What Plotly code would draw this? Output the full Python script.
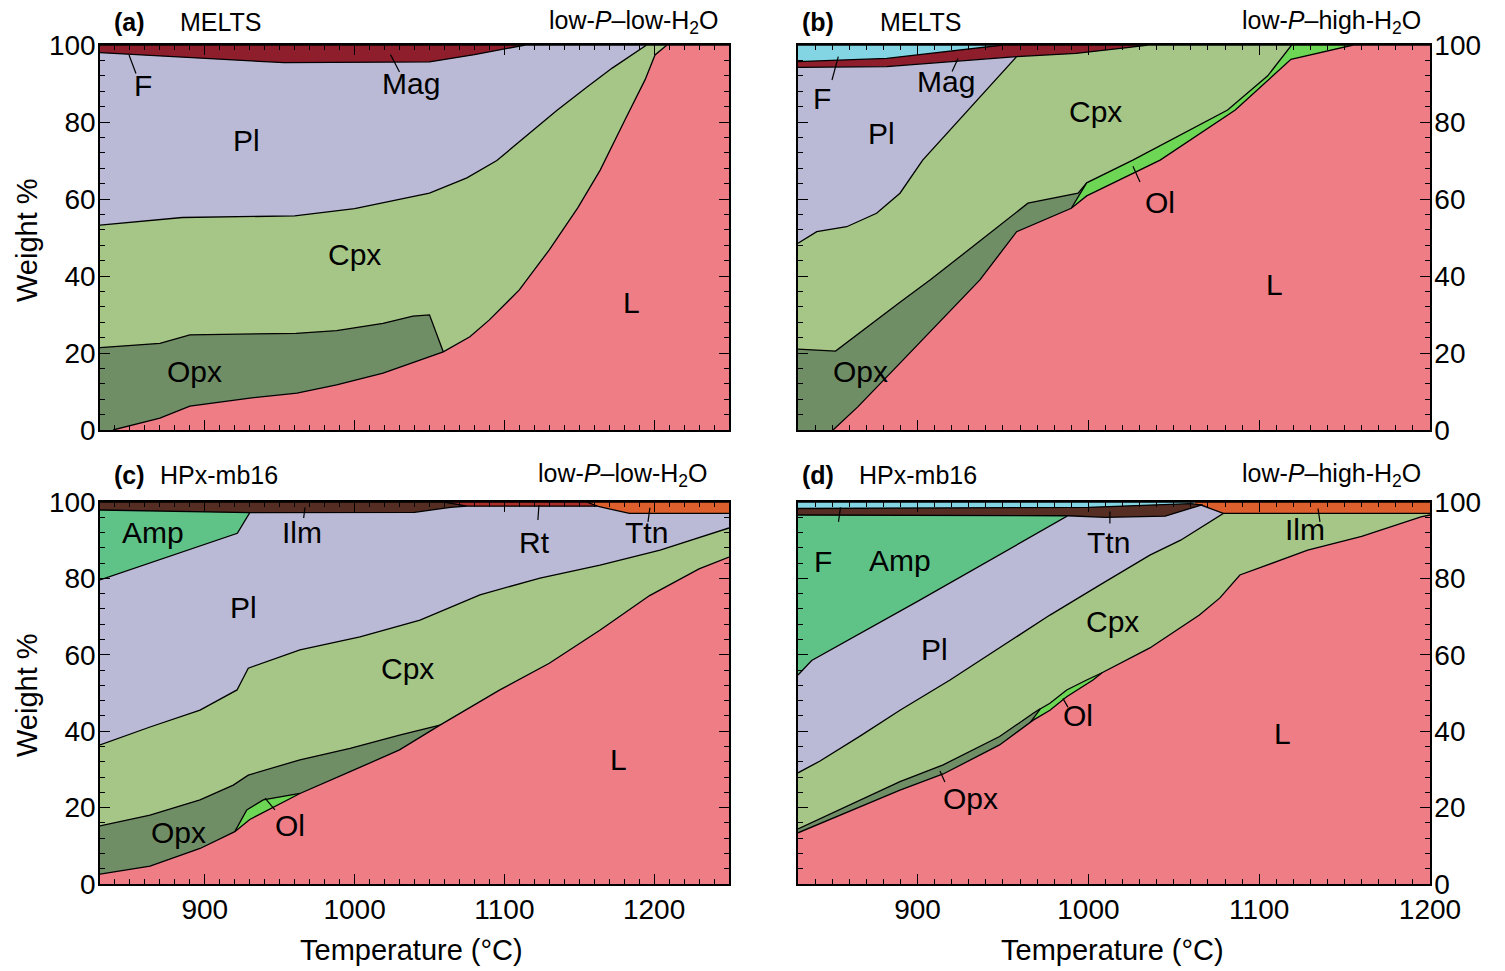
import plotly.graph_objects as go

FONT = "Liberation Sans, Arial, Helvetica, sans-serif"

# ---------------- colours of phase fields ----------------
C_L = "#EE7D86"
C_CPX = "#A5C687"
C_OPX = "#708E66"
C_OL = "#6ED655"
C_PL = "#BABAD6"
C_AMP = "#5FC387"
C_MAG = "#8F1E2D"
C_F = "#84D5E3"
C_BROWN = "#552D23"
C_RT = "#AA2D28"
C_ORANGE = "#DD5F2D"

# ---------------- data: upper boundary of each phase field (T in °C, cumulative wt%) ----------------
# (a) MELTS, low-P-low-H2O
a_Mag = [(830, 100), (1114, 100)]
a_Pl = [(830, 98), (880, 97), (953, 95.4), (1050, 95.6), (1080, 97.5), (1114, 100), (1195, 100)]
a_Cpx = [(830, 53.2), (885, 55.2), (960, 55.6), (1000, 57.5), (1050, 61.5), (1075, 65.5), (1095, 70),
         (1115, 76.6), (1135, 83), (1155, 89), (1172, 94), (1195, 100), (1208.6, 100)]
a_Opx = [(830, 21.4), (870, 22.5), (890, 24.7), (961, 25.1), (988, 25.8), (1019, 27.7), (1039, 29.6),
         (1050, 29.9), (1059.2, 20.3)]
a_L = [(838.7, 0), (870, 3.1), (890, 6.2), (930, 8.3), (961.5, 9.6), (988, 11.7), (1019, 14.8), (1059.2, 20.3),
       (1077, 24.2), (1090, 28.6), (1110, 36.4), (1130, 46.8), (1149, 57.7), (1164, 67.5), (1180.5, 80.5),
       (1194, 91), (1200.6, 97.4), (1208.6, 100), (1250, 100)]

# (b) MELTS, low-P-high-H2O
b_F = [(830, 100), (950, 100)]
b_Mag = [(830, 95.7), (882, 96.5), (950, 100), (1035, 100)]
b_Pl = [(830, 94.2), (882, 94.4), (958, 97)]
b_Cpx = [(830, 48.5), (841, 51.5), (858.5, 52.8), (876, 56.3), (889.7, 61.5), (903, 70.1), (958, 97),
         (992.7, 97.8), (1022.6, 99.3), (1035, 100), (1119, 100)]
b_Opx = [(830, 21), (852, 20.5), (889.7, 33.2), (907.5, 39), (964.6, 58.9), (994, 61.5), (999, 64.2)]
b_Ol = [(990, 57.6), (999, 64.2), (1026, 70.1), (1042, 73.9), (1081.5, 83.1), (1105, 92), (1119, 100),
        (1155, 100)]
b_L = [(850.5, 0), (865, 6), (890, 17.5), (915, 29), (936.5, 39), (958, 51.5), (979, 55.4), (990, 57.6),
       (999, 60.8), (1042, 70.1), (1086, 83.1), (1118.6, 96.3), (1155, 100), (1200, 100)]

# (c) HPx-mb16, low-P-low-H2O
c_Ttn = [(1150, 100), (1250, 100)]
c_Rt = [(1060, 100), (1155, 100), (1162, 98.9)]
c_Ilm = [(830, 100), (1060, 100), (1075, 98.9)]
c_Amp = [(830, 97.9), (930, 97.2)]
c_Pl = [(830, 79.6), (892.6, 87.9), (921.7, 91.8), (930, 97.2), (1040, 97.3), (1064, 98.6), (1075, 98.9),
        (1162, 98.9), (1183.5, 97), (1250, 97)]
c_Cpx = [(830, 36.4), (863.4, 41.1), (896.8, 45.5), (921.5, 50.8), (929, 56.5), (963.5, 61.3), (1003.6, 64.7),
         (1043.7, 69.1), (1083.7, 75.7), (1123.8, 80.1), (1163.9, 83.5), (1204, 87.4), (1250, 93.2)]
c_Opx = [(830, 15.2), (863.4, 18), (896.8, 22), (919, 25.9), (929, 28.5), (963.5, 32.5), (997, 35.5),
         (1030, 39), (1057, 41.6)]
c_Ol = [(920, 13.7), (928, 19.4), (939, 22), (963.5, 23.7)]
c_L = [(830, 2.6), (863.4, 4.7), (896.8, 9.3), (920, 13.7), (930, 16.9), (963.5, 23.7), (997, 29.4),
       (1030, 35.1), (1057, 41.6), (1097, 50.8), (1130, 57.8), (1164, 66.5), (1197, 75.5), (1230, 82.5),
       (1250, 85.6)]

# (d) HPx-mb16, low-P-high-H2O
d_Ilm = [(1062, 100), (1200, 100)]
d_F = [(830, 100), (1062, 100)]
d_Ttn = [(830, 98.3), (1000, 98.6), (1060, 99.6), (1067, 99.2)]
d_Amp = [(830, 96.6), (988, 96.4)]
d_Pl = [(830, 54.7), (838, 58.5), (900, 74), (950, 86.6), (988, 96.4), (1010, 96.0), (1045, 96.3),
        (1066, 99.2), (1079, 97)]
d_Cpx = [(830, 29.1), (842.9, 32.2), (866.3, 38.7), (889.7, 45.5), (919, 53.4), (948.3, 61.8), (977.5, 70.4),
         (1006.8, 78.3), (1036, 86.1), (1054, 90), (1079, 97), (1200, 97)]
d_Opx = [(830, 14.4), (889.7, 26.8), (915, 31.2), (948, 38.6), (967.7, 44.7), (972, 45.9)]
d_Ol = [(966, 42.3), (972, 45.9), (977.5, 47.3), (987.3, 50.8), (999, 53.4), (1008, 55.3)]
d_L = [(830, 13.4), (889.7, 24.6), (915, 28.8), (948, 36.4), (967.7, 42.9), (977.5, 45.5), (987.3, 49),
       (1002.7, 53.4), (1008, 55.3), (1036, 61.8), (1065, 70.4), (1077, 74.9), (1088.7, 80.9), (1100, 82.7),
       (1128.4, 87.4), (1160, 91), (1194.7, 96.1), (1200, 96.6)]

X_TICKS = [900, 1000, 1100, 1200]
Y_TICKS = [0, 20, 40, 60, 80, 100]

# layers drawn from the top of the diagram downwards (each filled to 0, later ones cover earlier)
panels = {
    "a": ("x", "y", [(a_Mag, C_MAG), (a_Pl, C_PL), (a_Cpx, C_CPX), (a_Opx, C_OPX), (a_L, C_L)]),
    "b": ("x2", "y2", [(b_F, C_F), (b_Mag, C_MAG), (b_Pl, C_PL), (b_Cpx, C_CPX), (b_Opx, C_OPX),
                       (b_Ol, C_OL), (b_L, C_L)]),
    "c": ("x3", "y3", [(c_Ttn, C_ORANGE), (c_Rt, C_RT), (c_Ilm, C_BROWN), (c_Amp, C_AMP), (c_Pl, C_PL),
                       (c_Cpx, C_CPX), (c_Opx, C_OPX), (c_Ol, C_OL), (c_L, C_L)]),
    "d": ("x4", "y4", [(d_Ilm, C_ORANGE), (d_F, C_F), (d_Ttn, C_BROWN), (d_Amp, C_AMP), (d_Pl, C_PL),
                       (d_Cpx, C_CPX), (d_Opx, C_OPX), (d_Ol, C_OL), (d_L, C_L)]),
}

fig = go.Figure()
for key, (xa, ya, layers) in panels.items():
    for pts, col in layers:
        fig.add_trace(go.Scatter(
            x=[p[0] for p in pts], y=[p[1] for p in pts], mode="lines",
            line=dict(color="black", width=1.3), fill="tozeroy", fillcolor=col,
            xaxis=xa, yaxis=ya, showlegend=False, hoverinfo="skip"))

W, H = 1505, 971
OFF = 8  # page body margin of the browser


def fx(px):
    return (px - OFF) / W


def fy(py):
    return 1 - (py - OFF) / H


XL = [fx(100), fx(729)]
XR = [fx(798), fx(1430)]
YT = [fy(430), fy(45)]
YB = [fy(884), fy(502)]

tickfont = dict(family=FONT, size=28, color="black")


def xax(domain, rng, anchor, labels):
    return dict(domain=domain, range=rng, anchor=anchor, showline=True, linecolor="black", linewidth=1.5,
                mirror="allticks", ticks="inside", ticklen=10, tickwidth=1.3, tickcolor="black",
                tickvals=X_TICKS, showticklabels=labels, tickfont=tickfont, ticklabelstandoff=0,
                automargin=False,
                minor=dict(ticks="inside", ticklen=5, tickwidth=1.1, tickcolor="black", dtick=10, tick0=900),
                showgrid=False, zeroline=False)


def yax(domain, anchor, side):
    return dict(domain=domain, range=[0, 100], anchor=anchor, side=side, showline=True, linecolor="black",
                linewidth=1.5, mirror="allticks", ticks="inside", ticklen=10, tickwidth=1.3, tickcolor="black",
                tickvals=Y_TICKS, tickfont=tickfont, ticklabelstandoff=-3, automargin=False,
                minor=dict(ticks="inside", ticklen=5, tickwidth=1.1, tickcolor="black", dtick=4, tick0=0),
                showgrid=False, zeroline=False)


fig.update_layout(
    width=W, height=H, autosize=False, margin=dict(l=0, r=0, t=0, b=0, pad=0),
    paper_bgcolor="white", plot_bgcolor="white",
    xaxis=xax(XL, [830, 1250], "y", False), yaxis=yax(YT, "x", "left"),
    xaxis2=xax(XR, [830, 1200], "y2", False), yaxis2=yax(YT, "x2", "right"),
    xaxis3=xax(XL, [830, 1250], "y3", True), yaxis3=yax(YB, "x3", "left"),
    xaxis4=xax(XR, [830, 1200], "y4", True), yaxis4=yax(YB, "x4", "right"),
)

ann = []


def lab(text, x, y, xr, yr, size=30):
    ann.append(dict(text=text, x=x, y=y, xref=xr, yref=yr, showarrow=False, xanchor="center",
                    yanchor="middle", font=dict(family=FONT, size=size, color="black")))


for t, x, y in [("F", 858.7, 89.6), ("Mag", 1037.7, 90.1), ("Pl", 928, 75.3), ("Cpx", 1000, 45.5),
                ("Opx", 893.4, 15.1), ("L", 1185, 33.2)]:
    lab(t, x, y, "x", "y")
for t, x, y in [("F", 844, 86.2), ("Mag", 916.6, 90.4), ("Pl", 879, 77.1), ("Cpx", 1003.9, 82.6),
                ("Ol", 1042, 59.2), ("L", 1109, 37.7), ("Opx", 866.3, 15.1)]:
    lab(t, x, y, "x2", "y2")
for t, x, y in [("Amp", 865.4, 91.9), ("Ilm", 964.9, 92.1), ("Rt", 1119.8, 89.3), ("Ttn", 1194.6, 92.1),
                ("Pl", 926.1, 72.3), ("Cpx", 1035, 56.5), ("L", 1175.9, 32.5), ("Opx", 882.1, 13.4),
                ("Ol", 956.9, 15.2)]:
    lab(t, x, y, "x3", "y3")
for t, x, y in [("F", 844.6, 84.3), ("Amp", 889.7, 84.8), ("Ttn", 1011.5, 89.5), ("Ilm", 1126.8, 92.7),
                ("Pl", 910.2, 61.3), ("Cpx", 1014.4, 68.6), ("Ol", 993.9, 44), ("L", 1113.9, 39.5),
                ("Opx", 930.7, 22.5)]:
    lab(t, x, y, "x4", "y4")


def ptitle(text, px, py, anchor, bold=False):
    ann.append(dict(text=("<b>%s</b>" % text) if bold else text, x=fx(px), y=fy(py), xref="paper",
                    yref="paper", xanchor=anchor, yanchor="middle", showarrow=False,
                    font=dict(family=FONT, size=25, color="black")))


ptitle("(a)", 112, 22, "left", True)
ptitle("MELTS", 178, 22, "left")
ptitle("low-<i>P</i>–low-H<sub>2</sub>O", 721, 22, "right")
ptitle("(b)", 800, 22, "left", True)
ptitle("MELTS", 878, 22, "left")
ptitle("low-<i>P</i>–high-H<sub>2</sub>O", 1423, 22, "right")
ptitle("(c)", 112, 475, "left", True)
ptitle("HPx-mb16", 158, 475, "left")
ptitle("low-<i>P</i>–low-H<sub>2</sub>O", 710, 475, "right")
ptitle("(d)", 800, 475, "left", True)
ptitle("HPx-mb16", 857, 475, "left")
ptitle("low-<i>P</i>–high-H<sub>2</sub>O", 1423, 475, "right")

for py in (240, 695):
    ann.append(dict(text="Weight %", x=fx(27), y=fy(py), xref="paper", yref="paper", textangle=-90,
                    xanchor="center", yanchor="middle",
                    showarrow=False, font=dict(family=FONT, size=29, color="black")))
for px in (411, 1112):
    ann.append(dict(text="Temperature (°C)", x=fx(px), y=fy(950), xref="paper", yref="paper",
                    xanchor="center", yanchor="middle",
                    showarrow=False, font=dict(family=FONT, size=29, color="black")))

shapes = []


def leader(x0, y0, x1, y1, xr, yr):
    shapes.append(dict(type="line", x0=x0, y0=y0, x1=x1, y1=y1, xref=xr, yref=yr,
                       line=dict(color="black", width=1.2)))


leader(849.4, 97.4, 854, 92.6, "x", "y")
leader(1024, 97.5, 1030, 93, "x", "y")
leader(849.9, 90.9, 853.6, 97, "x2", "y2")
leader(920.2, 93.1, 923.7, 96.5, "x2", "y2")
leader(1030.2, 64.4, 1026.1, 68.5, "x2", "y2")
leader(966, 95.8, 966.9, 98.6, "x3", "y3")
leader(1122.4, 95.3, 1123.1, 99.2, "x3", "y3")
leader(1195.9, 94.8, 1197.2, 98.5, "x3", "y3")
leader(946.8, 19.4, 940.2, 22.5, "x3", "y3")
leader(853.7, 94.8, 854.9, 98.6, "x4", "y4")
leader(1012.6, 94.4, 1012.6, 97.5, "x4", "y4")
leader(1134.4, 98.3, 1135.6, 94.8, "x4", "y4")
leader(985.1, 48.6, 988, 46.3, "x4", "y4")
leader(913.1, 29.6, 916, 26.7, "x4", "y4")

fig.update_layout(annotations=ann, shapes=shapes)
fig.write_html("out.html")
